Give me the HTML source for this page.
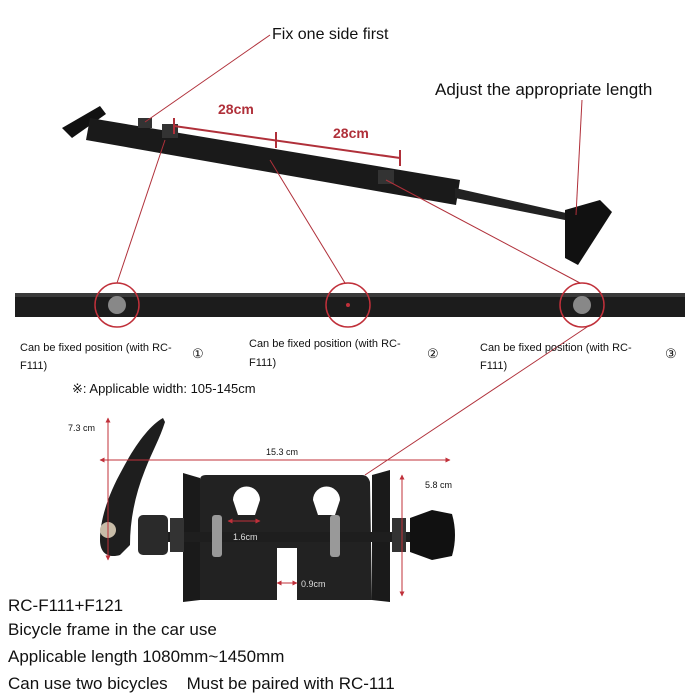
<!DOCTYPE html>
<html><head><meta charset="utf-8"><style>
html,body{margin:0;padding:0;background:#fff}
svg{display:block}
text{font-family:"Liberation Sans",sans-serif}
</style></head><body>
<svg width="700" height="700" viewBox="0 0 700 700" xmlns="http://www.w3.org/2000/svg">
<defs>
<marker id="a" viewBox="0 0 10 10" refX="9" refY="5" markerWidth="5" markerHeight="5" orient="auto-start-reverse"><path d="M0,0 L10,5 L0,10 Z" fill="#c0303a"/></marker>
</defs>
<rect width="700" height="700" fill="#fff"/>
<!-- top bar -->
<polygon points="62,128 100,106 106,114 72,138" fill="#111"/>
<polygon points="90,118 460,180 456,205 86,140" fill="#1a1a1a"/>
<polygon points="455,188 575,215 575,222 455,198" fill="#222"/>
<polygon points="565,210 600,200 612,212 578,265 565,258" fill="#111"/>
<rect x="138" y="118" width="14" height="10" fill="#333"/>
<rect x="162" y="124" width="16" height="14" fill="#333"/>
<rect x="378" y="170" width="16" height="14" fill="#333"/>
<g stroke="#b0303a" stroke-width="1" fill="none">
<line x1="270" y1="35" x2="145" y2="122"/>
<line x1="582" y1="100" x2="576" y2="215"/>
<line x1="174" y1="126" x2="400" y2="158" stroke-width="2"/>
<line x1="174" y1="118" x2="174" y2="134" stroke-width="2"/>
<line x1="276" y1="132" x2="276" y2="148" stroke-width="2"/>
<line x1="400" y1="150" x2="400" y2="166" stroke-width="2"/>
<line x1="165" y1="140" x2="117" y2="283"/>
<line x1="270" y1="160" x2="345" y2="283"/>
<line x1="386" y1="180" x2="580" y2="283"/>
<line x1="590" y1="325" x2="365" y2="475"/>
</g>
<text x="272" y="39" font-size="16" fill="#111">Fix one side first</text>
<text x="435" y="95" font-size="17" fill="#111">Adjust the appropriate length</text>
<text x="218" y="114" font-size="14" font-weight="bold" fill="#b0303a">28cm</text>
<text x="333" y="138" font-size="14" font-weight="bold" fill="#b0303a">28cm</text>
<rect x="15" y="293" width="670" height="24" fill="#1c1c1c"/>
<rect x="15" y="293" width="670" height="4" fill="#3a3a3a"/>
<g stroke="#c0303a" stroke-width="1.5" fill="none">
<circle cx="117" cy="305" r="22"/>
<circle cx="348" cy="305" r="22"/>
<circle cx="582" cy="305" r="22"/>
</g>
<circle cx="117" cy="305" r="9" fill="#888"/>
<circle cx="582" cy="305" r="9" fill="#888"/>
<circle cx="348" cy="305" r="2" fill="#c0303a"/>
<g font-size="11" fill="#111">
<text x="20" y="351">Can be fixed position (with RC-</text><text x="20" y="369">F111)</text>
<text x="249" y="347">Can be fixed position (with RC-</text><text x="249" y="366">F111)</text>
<text x="480" y="351">Can be fixed position (with RC-</text><text x="480" y="369">F111)</text>
<text x="192" y="358" font-size="13">①</text>
<text x="427" y="358" font-size="13">②</text>
<text x="665" y="358" font-size="13">③</text>
</g>
<text x="72" y="393" font-size="13" fill="#111">※: Applicable width: 105-145cm</text>
<!-- bottom mechanism -->
<polygon points="183,473 200,478 200,600 183,602" fill="#1a1a1a"/>
<path d="M200,480 Q200,475 206,475 L362,475 Q368,475 370,482 L372,600 L297,600 L297,548 L277,548 L277,600 L200,600 Z" fill="#222"/>
<path d="M233,500 a13,13 0 1 1 27,0 L255,515 L238,515 Z" fill="#fff"/>
<path d="M313,500 a13,13 0 1 1 27,0 L335,515 L318,515 Z" fill="#fff"/>
<polygon points="372,475 390,470 390,602 372,600" fill="#1a1a1a"/>
<rect x="155" y="532" width="255" height="10" fill="#1e1e1e"/>
<rect x="212" y="515" width="10" height="42" rx="3" fill="#999"/>
<rect x="330" y="515" width="10" height="42" rx="3" fill="#999"/>
<rect x="170" y="518" width="14" height="34" fill="#333"/>
<rect x="392" y="518" width="14" height="34" fill="#333"/>
<rect x="138" y="515" width="30" height="40" rx="5" fill="#2a2a2a"/>
<path d="M163,418 C150,425 135,445 122,470 C108,495 100,520 100,540 C100,555 110,558 120,555 L130,545 C130,520 135,495 145,470 C152,452 160,438 165,422 Z" fill="#1e1e1e"/>
<circle cx="108" cy="530" r="8" fill="#c8bca8"/>
<path d="M410,518 L432,510 L452,514 Q458,535 452,556 L432,560 L410,552 Z" fill="#111"/>
<g stroke="#c0303a" stroke-width="1" fill="none">
<line x1="100" y1="460" x2="450" y2="460" marker-start="url(#a)" marker-end="url(#a)"/>
<line x1="108" y1="418" x2="108" y2="560" marker-start="url(#a)" marker-end="url(#a)"/>
<line x1="402" y1="475" x2="402" y2="596" marker-start="url(#a)" marker-end="url(#a)"/>
<line x1="228" y1="521" x2="260" y2="521" marker-start="url(#a)" marker-end="url(#a)"/>
<line x1="277" y1="583" x2="297" y2="583" marker-start="url(#a)" marker-end="url(#a)"/>
</g>
<g font-size="9" fill="#111">
<text x="68" y="431">7.3 cm</text>
<text x="266" y="455">15.3 cm</text>
<text x="425" y="488">5.8 cm</text>
<text x="233" y="540" fill="#ddd">1.6cm</text>
<text x="301" y="587" fill="#ddd">0.9cm</text>
</g>
<g font-size="17" fill="#111">
<text x="8" y="611">RC-F111+F121</text>
<text x="8" y="635">Bicycle frame in the car use</text>
<text x="8" y="662">Applicable length 1080mm~1450mm</text>
<text x="8" y="689">Can use two bicycles &#160;&#160;&#160;Must be paired with RC-111</text>
</g>
</svg>
</body></html>
